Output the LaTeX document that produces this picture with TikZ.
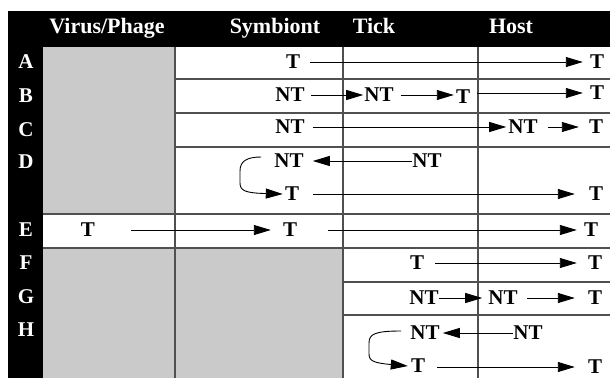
\documentclass[tikz,border=0pt]{standalone}
\usepackage{fontspec}
\setmainfont{Liberation Serif}
\usetikzlibrary{arrows.meta}
\definecolor{cellgray}{RGB}{202,202,202}
\definecolor{rule}{RGB}{80,80,80}
\begin{document}
\begin{tikzpicture}[x=1pt,y=-1pt,
  txt/.style={font=\fontsize{21}{25}\selectfont\bfseries, inner sep=0pt, text=black},
  hdr/.style={font=\fontsize{22}{26}\selectfont\bfseries, inner sep=0pt, text=white, anchor=base},
  lbl/.style={font=\fontsize{21}{25}\selectfont\bfseries, inner sep=0pt, text=white},
  arr/.style={line width=0.9pt, -{Triangle[length=17pt,width=10pt]}},
  tab/.style={draw=rule, line width=1.3pt}]
\useasboundingbox (0,0) rectangle (610,378);
\fill[white] (0,0) rectangle (610,378);
% gray cells
\fill[cellgray] (43,47) rectangle (175,214);
\fill[cellgray] (43,248) rectangle (343,378);
% table rules
\draw[tab] (175,79) -- (610,79);
\draw[tab] (175,113) -- (610,113);
\draw[tab] (175,147) -- (610,147);
\draw[tab] (43,214) -- (610,214);
\draw[tab] (43,248) -- (610,248);
\draw[tab] (343,282) -- (610,282);
\draw[tab] (343,315) -- (610,315);
\draw[tab] (175,47) -- (175,378);
\draw[tab] (343,47) -- (343,378);
\draw[tab] (478,47) -- (478,378);
% black header and label column
\fill[black] (8,11) rectangle (610,47);
\fill[black] (8,11) rectangle (43,378);
% headers
\node[hdr] (hv) at (107,33) {Virus/Phage};
\node[hdr] (hs) at (275,33) {Symbiont};
\node[hdr] (ht) at (374,33) {Tick};
\node[hdr] (hh) at (511,33) {Host};
% row labels
\node[lbl] (lA) at (26,62) {A};
\node[lbl] (lB) at (26,96) {B};
\node[lbl] (lC) at (26,130) {C};
\node[lbl] (lD) at (26,162) {D};
\node[lbl] (lE) at (26,230) {E};
\node[lbl] (lF) at (26,263) {F};
\node[lbl] (lG) at (26,297) {G};
\node[lbl] (lH) at (26,330) {H};
% row A
\node[txt] (a1) at (293,62) {T};
\node[txt] (a2) at (597,62) {T};
\draw[arr, shorten <=10pt, shorten >=7pt] (a1.east) -- (a2.west);
% row B
\node[txt] (b1) at (290,95) {NT};
\node[txt] (b2) at (379,95) {NT};
\node[txt] (b3) at (463,97) {T};
\node[txt] (b4) at (597,93) {T};
\draw[arr, shorten <=6pt, shorten >=1pt] (b1.east) -- (b2.west);
\draw[arr, shorten <=7pt, shorten >=2pt] (b2.east) -- (b2.east -| b3.west);
\draw[arr, shorten <=7pt, shorten >=7pt] (b3.east |- b4.west) -- (b4.west);
% row C
\node[txt] (c1) at (290,127) {NT};
\node[txt] (c2) at (523,127) {NT};
\node[txt] (c3) at (596,127) {T};
\draw[arr, shorten <=8pt, shorten >=2pt] (c1.east) -- (c2.west);
\draw[arr, shorten <=10pt, shorten >=10pt] (c2.east) -- (c3.west);
% row D
\node[txt] (d1) at (289,161) {NT};
\node[txt] (d2) at (427,161) {NT};
\node[txt] (d3) at (292,194) {T};
\node[txt] (d4) at (596,194) {T};
\draw[arr, shorten >=9pt] (d2.west) -- (d1.east);
\draw[arr] ([shift={(-13,-4)}]d1.west) .. controls (247,157) and (240,161) .. (240,171)
  -- (240,183) .. controls (240,191) and (246,193) .. ([xshift=-2pt]d3.west);
\draw[arr, shorten <=14pt, shorten >=14pt] (d3.east) -- (d4.west);
% row E
\node[txt] (e1) at (88,230) {T};
\node[txt] (e2) at (290,230) {T};
\node[txt] (e3) at (591,230) {T};
\draw[arr, shorten <=36pt, shorten >=12pt] (e1.east) -- (e2.west);
\draw[arr, shorten <=31pt, shorten >=7pt] (e2.east) -- (e3.west);
% row F
\node[txt] (f1) at (417,263) {T};
\node[txt] (f2) at (595,263) {T};
\draw[arr, shorten <=11pt, shorten >=11pt] (f1.east) -- (f2.west);
% row G
\node[txt] (g1) at (424,298) {NT};
\node[txt] (g2) at (503,298) {NT};
\node[txt] (g3) at (595,298) {T};
\draw[arr, shorten >=6pt] (g1.east) -- (g2.west);
\draw[arr, shorten <=9pt, shorten >=13pt] (g2.east) -- (g3.west);
% row H
\node[txt] (h1) at (425,333) {NT};
\node[txt] (h2) at (528,333) {NT};
\node[txt] (h3) at (418,366) {T};
\node[txt] (h4) at (595,367) {T};
\draw[arr, shorten >=3pt] (h2.west) -- (h1.east);
\draw[arr] ([shift={(-9,-2)}]h1.west) .. controls (375,331) and (369,334) .. (369,343)
  -- (369,354) .. controls (369,361) and (374,363) .. ([xshift=-3pt]h3.west);
\draw[arr, shorten <=12pt, shorten >=13pt] (h3.east |- h4.west) -- (h4.west);
\end{tikzpicture}
\end{document}
